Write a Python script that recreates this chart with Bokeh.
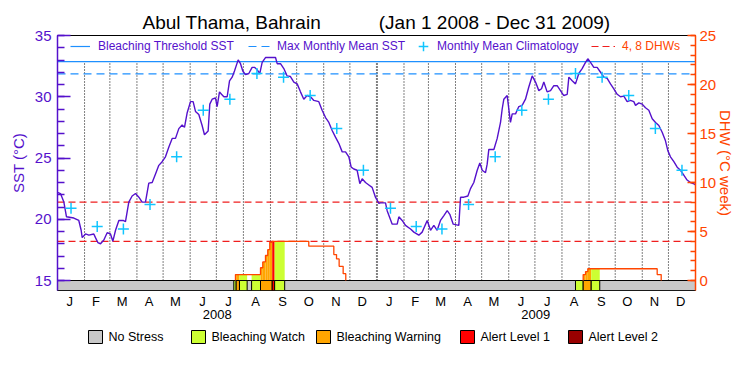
import calendar
from bokeh.plotting import figure
from bokeh.models import Range1d, LinearAxis, FixedTicker, Legend, LegendItem, Title
from bokeh.layouts import column
from bokeh.embed import file_html
from bokeh.resources import INLINE

# ---------------- data ----------------
title_site = "Abul Thama, Bahrain"
title_period = "(Jan 1 2008 - Dec 31 2009)"
years = [2008, 2009]
month_letters = ["J", "F", "M", "A", "M", "J", "J", "A", "S", "O", "N", "D"]

# daily SST (days since 2008-01-01)
sst_day = [0, 3.4, 7.3, 10.3, 18.7, 24.4, 27.1, 28.3, 32.1, 35.9, 41.6, 43.5, 46.2, 49.3, 53.1, 56.9,
           60.7, 63.4, 66.5, 70.3, 75.2, 77.9, 81.7, 85.5, 89.4, 93.2, 97.0, 100.8, 104.6, 108.5, 112.3,
           116.1, 119.9, 123.7, 127.6, 131.4, 135.2, 139.0, 142.8, 145.5, 148.6, 152.4, 155.4, 158.1,
           161.9, 165.7, 168.4, 172.6, 174.5, 177.2, 181.0, 182.9, 185.6, 187.9, 190.6, 194.4, 197.1,
           200.1, 202.8, 205.1, 207.0, 209.7, 212.3, 215.4, 219.2, 223.0, 225.7, 228.8, 231.8, 234.5,
           238.3, 242.1, 245.9, 249.8, 251.7, 255.5, 259.3, 263.1, 266.9, 270.8, 274.6, 278.4, 282.2,
           286.0, 289.9, 293.7, 299.4, 303.2, 307.1, 310.9, 314.7, 318.5, 322.3, 326.2, 330.0, 333.8,
           336.5, 339.5, 343.3, 346.4, 349.1, 352.9, 356.7, 360.5, 364.3, 368.2,
           370.1, 375.8, 377.7, 383.5, 389.2, 391.1, 394.9, 398.7, 404.5, 408.3, 414.0, 417.8, 423.6,
           427.4, 431.2, 435.0, 438.8, 442.7, 446.5, 449.5, 453.4, 459.8, 461.8, 465.6, 470.2, 473.2,
           477.0, 480.9, 483.9, 486.6, 490.4, 492.3, 494.2, 500.0, 503.8, 507.6, 509.5, 511.4, 515.2,
           517.1, 519.0, 521.0, 524.8, 528.6, 532.4, 536.2, 540.0, 543.9, 547.7, 551.5, 554.6, 557.2,
           561.0, 564.9, 568.7, 572.5, 576.3, 580.1, 584.0, 585.9, 589.7, 593.5, 597.3, 601.1, 605.0,
           607.6, 610.7, 614.5, 618.3, 622.2, 626.0, 629.8, 633.6, 637.4, 641.3, 645.1, 648.9, 652.7,
           656.5, 660.3, 662.3, 666.1, 669.9, 673.7, 677.5, 681.4, 685.2, 689.0, 692.8, 696.6, 699.3,
           702.3, 706.2, 710.0, 713.8, 717.6, 721.4, 725.3, 729.1, 731.0]
sst_val = [22.2, 22.1, 21.4, 20.2, 20.1, 19.9, 19.1, 18.5, 18.8, 18.7, 18.8, 18.5, 18.1, 18.0, 18.3, 18.9,
           18.8, 18.2, 19.1, 19.9, 19.9, 19.8, 21.4, 21.9, 22.1, 21.8, 21.4, 21.4, 22.95, 23.0, 23.7,
           24.4, 24.7, 25.1, 25.9, 26.6, 26.6, 27.4, 27.7, 27.5, 28.7, 29.6, 29.6, 28.8,
           28.55, 27.65, 26.9, 27.2, 29.4, 29.8, 29.9, 29.2, 30.4, 30.2, 30.0, 30.0, 31.3,
           31.6, 32.1, 32.6, 33.0, 32.7, 32.1, 31.8, 31.9, 32.4, 32.4, 32.2, 31.9, 32.8,
           33.2, 33.2, 33.2, 33.2, 32.7, 32.7, 32.3, 31.7, 31.65, 31.2, 31.05, 30.4, 29.8,
           30.1, 30.0, 29.7, 29.6, 28.9, 28.3, 27.9, 27.25, 26.7, 26.2, 25.5, 25.5, 25.1,
           24.25, 24.1, 24.0, 22.9, 23.3, 23.0, 22.8, 22.6, 21.8, 21.3,
           21.34, 21.34, 20.7, 19.6, 19.6, 20.2, 19.9, 19.5, 19.2, 18.95, 18.7, 18.95, 19.9,
           19.1, 19.5, 19.1, 19.9, 20.3, 20.7, 20.4, 19.6, 19.5, 21.8, 21.8, 21.9, 22.5,
           23.0, 24.0, 24.6, 24.0, 23.8, 24.5, 25.7, 25.7, 26.6, 27.9, 29.0, 29.8, 30.1,
           29.0, 27.9, 28.6, 28.6, 29.2, 29.3, 29.8, 30.8, 31.7, 31.2, 30.5, 30.65, 31.2,
           30.4, 30.5, 30.9, 30.9, 30.5, 30.1, 30.2, 31.6, 31.3, 31.05, 31.9, 32.3, 32.8,
           33.1, 32.8, 32.4, 32.4, 32.0, 31.6, 31.5, 31.05, 30.65, 30.2, 30.0, 30.05, 29.6,
           29.7, 29.6, 29.3, 29.5, 29.4, 29.1, 28.9, 28.2, 27.9, 27.65, 27.1, 26.4, 25.6,
           25.1, 24.7, 24.25, 24.0, 23.6, 23.2, 23.0, 22.9, 22.8]

clim_val = [20.9, 19.4, 19.2, 21.2, 25.1, 28.9, 29.8, 31.9, 31.6, 30.1, 27.4, 24.0]
mmm_sst = 31.87
threshold_sst = 32.87
dhw_levels = [4, 8]

# Degree Heating Weeks step values (start day, value)
dhw_day = [203.9, 232.6, 235.2, 238.3, 240.9, 243.2, 246.0, 287.9, 316.6, 319.7, 322.7, 327.3, 330.3,
           602.3, 605.0, 607.6, 687.1, 691.7]
dhw_val = [0.6, 1.3, 1.9, 2.55, 3.15, 3.9, 4.0, 3.5, 2.65, 2.2, 1.45, 0.7, 0.0,
           0.6, 0.9, 1.2, 0.6, 0.0]

# bleaching alert status periods (0 none, 1 watch, 2 warning, 3 alert 1, 4 alert 2)
status_start = [202.0, 204.7, 208.5, 222.4, 232.6, 246.0, 248.8, 593.5, 602.3, 611.5]
status_end = [204.7, 208.5, 217.3, 232.6, 246.0, 248.8, 260.3, 602.3, 611.5, 621.3]
status_level = [1, 2, 1, 1, 2, 3, 1, 1, 2, 1]
status_names = ["No Stress", "Bleaching Watch", "Bleaching Warning", "Alert Level 1", "Alert Level 2"]

# ---------------- styles ----------------
PURPLE = "#5511CC"
ORANGE = "#FF4500"
BLUE = "#1E90FF"
CYAN = "#11C5FF"
RED = "#F01E1E"
STATUS_COLORS = ["#C8C8C8", "#CCFF33", "#FFA500", "#FF0000", "#990000"]
FONT = "Liberation Sans"

# calendar
month_start, month_len = [], []
d = 0
for y in years:
    for m in range(1, 13):
        n = calendar.monthrange(y, m)[1]
        month_start.append(d)
        month_len.append(n)
        d += n
total_days = d
year_start = [0, month_start[12]]

FRAME_L, FRAME_R, FRAME_T, FRAME_B = 57, 695, 35, 290
FRAME_H = FRAME_B - FRAME_T
sst_lo = 15 - 10 * 20 / (FRAME_H - 10)
dhw_lo = 0 - 10 * 25 / (FRAME_H - 10)

p = figure(width=734, height=322, x_range=Range1d(0, total_days), y_range=Range1d(sst_lo, 35),
           x_axis_type=None, y_axis_type=None, output_backend="svg", toolbar_location=None,
           min_border_left=FRAME_L, min_border_right=734 - FRAME_R, min_border_top=FRAME_T,
           min_border_bottom=322 - FRAME_B,
           title=title_site + "\u00a0" * 11 + title_period)
p.extra_y_ranges = {"dhw": Range1d(dhw_lo, 25)}
p.outline_line_color = "black"
p.outline_line_width = 1
p.xgrid.visible = False
p.ygrid.visible = False
p.title.align = "center"
p.title.text_font = FONT
p.title.text_font_size = "19px"
p.title.text_font_style = "normal"
p.title.text_color = "black"
p.title.standoff = 6

# dotted month separators
inner = [s for s in month_start[1:]]
thin = [s for s in inner if s not in year_start]
p.segment(x0=thin, x1=thin, y0=[15] * len(thin), y1=[threshold_sst] * len(thin),
          line_color="black", line_dash="1 2", line_width=1)
yb = [year_start[1]]
p.segment(x0=yb, x1=yb, y0=[15], y1=[threshold_sst], line_color="black", line_dash="1 2", line_width=2)

# DHW 4/8 reference lines
r_dhw = p.multi_line(xs=[[0, total_days]] * len(dhw_levels), ys=[[v, v] for v in dhw_levels],
                     y_range_name="dhw", line_color=RED, line_dash="7 4", line_width=1.2)
# MMM and threshold
r_mmm = p.line(x=[0, total_days], y=[mmm_sst, mmm_sst], line_color=BLUE, line_dash="8 5", line_width=1.2)
r_thr = p.line(x=[0, total_days], y=[threshold_sst, threshold_sst], line_color=BLUE, line_width=1.2)


def dhw_at(day):
    v = 0.0
    for dd, vv in zip(dhw_day, dhw_val):
        if dd <= day + 1e-9:
            v = vv
    return v


# coloured areas under DHW curve
fl, fr, ft, fc = [], [], [], []
for s, e, lev in zip(status_start, status_end, status_level):
    cuts = sorted(set([s, e] + [dd for dd in dhw_day if s < dd < e]))
    for a, b in zip(cuts[:-1], cuts[1:]):
        h = dhw_at(a)
        if h > 0:
            fl.append(a); fr.append(b); ft.append(h); fc.append(STATUS_COLORS[lev])
p.quad(left=fl, right=fr, bottom=[0] * len(fl), top=ft, fill_color=fc, line_color=None, y_range_name="dhw")

# status bar
p.quad(left=[0], right=[total_days], bottom=[dhw_lo], top=[0], fill_color=STATUS_COLORS[0],
       line_color="black", line_width=1, y_range_name="dhw")
p.quad(left=status_start, right=status_end, bottom=[dhw_lo] * len(status_start), top=[0] * len(status_start),
       fill_color=[STATUS_COLORS[l] for l in status_level], line_color="black", line_width=1,
       y_range_name="dhw")

# DHW step line
dhw_xs, dhw_ys = [], []
cx, cy, prev = [], [], 0.0
for dd, vv in zip(dhw_day, dhw_val):
    if not cx:
        cx, cy = [dd], [0.0]
    cx += [dd, dd]
    cy += [prev, vv]
    prev = vv
    if vv == 0:
        dhw_xs.append(cx); dhw_ys.append(cy)
        cx, cy = [], []
p.multi_line(xs=dhw_xs, ys=dhw_ys, line_color=ORANGE, line_width=1.3, y_range_name="dhw")

# SST
p.line(x=sst_day, y=sst_val, line_color=PURPLE, line_width=1.4)

# climatology crosses
clim_x = [month_start[i] + month_len[i] / 2 for i in range(24)]
clim_y = [clim_val[i % 12] for i in range(24)]
r_clim = p.scatter(x=clim_x, y=clim_y, marker="cross", size=11, line_color=CYAN, line_width=1.5)

# axes
left = LinearAxis(ticker=FixedTicker(ticks=[15, 20, 25, 30, 35], minor_ticks=list(range(15, 36))),
                  axis_label="SST (°C)")
right = LinearAxis(y_range_name="dhw", ticker=FixedTicker(ticks=[0, 5, 10, 15, 20, 25], minor_ticks=list(range(0, 26))))
for ax, col, tin, mtin, so in [(left, PURPLE, 13, 7, 6), (right, ORANGE, 8, 5, 4)]:
    ax.axis_line_color = col
    ax.axis_line_width = 1.5
    ax.major_tick_line_color = col
    ax.minor_tick_line_color = col
    ax.major_tick_line_width = 1.5
    ax.minor_tick_line_width = 1.5
    ax.major_tick_in = tin
    ax.major_tick_out = 0
    ax.minor_tick_in = mtin
    ax.minor_tick_out = 0
    ax.major_label_text_color = col
    ax.major_label_text_font = FONT
    ax.major_label_text_font_size = "15px"
    ax.major_label_standoff = so
left.axis_label_text_color = PURPLE
left.axis_label_text_font = FONT
left.axis_label_text_font_size = "15px"
left.axis_label_text_font_style = "normal"
left.axis_label_standoff = 5
p.add_layout(left, "left")
p.add_layout(right, "right")

# right axis title
p.add_layout(Title(text="DHW (°C week)", align="center", text_font=FONT, text_font_size="15px",
                   text_font_style="normal", text_color=ORANGE, standoff=-6, offset=0), "right")

month_ticks = [int(month_start[i] + month_len[i] / 2) - 1 for i in range(24)]
month_axis = LinearAxis(ticker=FixedTicker(ticks=month_ticks),
                        major_label_overrides={t: month_letters[i % 12] for i, t in enumerate(month_ticks)})
year_ticks = [int(year_start[i] + (183 if i == 0 else 182)) for i in range(2)]
year_axis = LinearAxis(ticker=FixedTicker(ticks=year_ticks),
                       major_label_overrides={t: str(years[i]) for i, t in enumerate(year_ticks)})
for ax, so in [(month_axis, 3), (year_axis, -2)]:
    ax.axis_line_color = None
    ax.major_tick_line_color = None
    ax.minor_tick_line_color = None
    ax.major_tick_out = 0
    ax.major_tick_in = 0
    ax.major_label_text_font = FONT
    ax.major_label_text_font_size = "13px"
    ax.major_label_text_color = "black"
    ax.major_label_standoff = so
p.add_layout(month_axis, "below")
p.add_layout(year_axis, "below")

# top legend
def add_legend(renderer, label, x, color, gw, standoff):
    lg = Legend(items=[LegendItem(label=label, renderers=[renderer])], location=(x, 232),
                orientation="horizontal", glyph_width=gw, glyph_height=24, label_standoff=standoff,
                padding=0, margin=0, spacing=0, border_line_color=None, background_fill_alpha=0,
                label_text_font_size="12px", label_text_color=color, label_text_font=FONT,
                label_height=12, label_width=10)
    p.add_layout(lg)

add_legend(r_thr, "Bleaching Threshold SST", 13, PURPLE, 20, 8)
add_legend(r_mmm, "Max Monthly Mean SST", 191, PURPLE, 22, 7)
add_legend(r_clim, "Monthly Mean Climatology", 354, PURPLE, 24, 2)
add_legend(r_dhw, "4, 8 DHWs", 534, ORANGE, 24, 7)

# bottom status legend (x in page pixels; its frame is aligned with the main frame)
lf = figure(width=734, height=37, x_range=Range1d(FRAME_L, FRAME_R), y_range=Range1d(37, 0),
            x_axis_type=None, y_axis_type=None, output_backend="svg", toolbar_location=None,
            min_border_left=FRAME_L, min_border_right=734 - FRAME_R, min_border_top=0, min_border_bottom=0)
lf.outline_line_color = None
lf.xgrid.visible = False
lf.ygrid.visible = False
box_left = [88, 191, 316, 460, 568]
lf.quad(left=box_left, right=[b + 14 for b in box_left], top=[8] * 5, bottom=[21] * 5,
        fill_color=STATUS_COLORS, line_color="black", line_width=1)
lf.text(x=[b + 20 for b in box_left], y=[14.5] * 5, text=status_names, text_font_size="12.5px",
        text_baseline="middle", text_align="left", text_color="black", text_font={"value": FONT})

layout = column(p, lf, spacing=0)
open("out.html", "w").write(file_html(layout, INLINE))
